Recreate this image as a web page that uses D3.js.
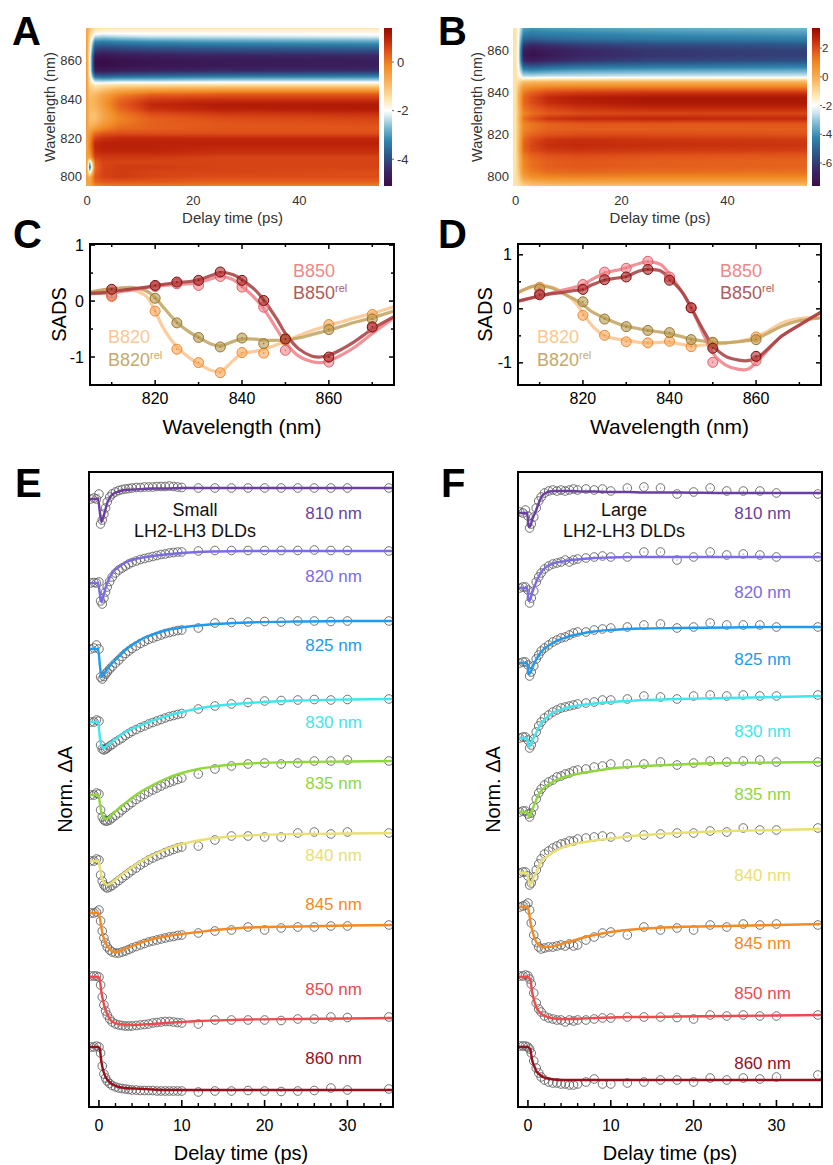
<!DOCTYPE html>
<html>
<head>
<meta charset="utf-8">
<script src="https://cdn.jsdelivr.net/npm/d3@7/dist/d3.min.js"></script>
<style>
html,body{margin:0;padding:0;background:#fff;}
svg{display:block;}
</style>
</head>
<body>
<svg id="fig" width="833" height="1165" xmlns="http://www.w3.org/2000/svg"></svg>
<script>
// ======================= DATA =======================
// --- Panels A / B : transient absorption maps (mOD) ---
const heatTimes = [0, 0.5, 1.5, 3, 6, 12, 25, 55];
const heatWlA = [877.5, 875, 872.5, 870, 867.5, 865, 862.5, 860, 857.5, 855, 852.5, 850, 847.5, 845, 842.5, 840, 837.5, 835, 832.5, 830, 827.5, 825, 822.5, 820, 817.5, 815, 812.5, 810, 807.5, 805, 802.5, 800, 797.5, 795];
const heatA = [
  [-0.6, -1.0, -1.4, -1.5, -1.5, -1.5, -1.5, -1.5],
  [-0.6, -1.1, -1.7, -1.8, -1.8, -1.8, -1.8, -1.8],
  [-0.6, -1.3, -2.4, -2.5, -2.4, -2.3, -2.3, -2.2],
  [-0.5, -1.5, -3.2, -3.3, -3.2, -3.1, -3.0, -2.9],
  [-0.5, -1.6, -3.8, -3.9, -3.8, -3.7, -3.6, -3.5],
  [-0.5, -1.7, -4.3, -4.4, -4.3, -4.2, -4.1, -4.0],
  [-0.5, -1.8, -4.8, -4.9, -4.8, -4.7, -4.6, -4.5],
  [-0.5, -1.8, -5.0, -5.1, -5.0, -4.9, -4.8, -4.7],
  [-0.5, -1.8, -5.0, -5.1, -5.0, -4.9, -4.8, -4.7],
  [-0.5, -1.8, -4.7, -4.8, -4.7, -4.6, -4.5, -4.4],
  [-0.5, -1.7, -3.8, -3.9, -3.8, -3.7, -3.6, -3.5],
  [-0.5, -1.5, -2.6, -2.7, -2.6, -2.6, -2.5, -2.5],
  [-0.5, -1.3, -1.6, -1.5, -1.4, -1.4, -1.4, -1.4],
  [-0.5, -1.1, -1.2, -1.0, -0.7, -0.5, -0.4, -0.4],
  [-0.5, -1.0, -0.9, -0.6, -0.1, 0.3, 0.4, 0.4],
  [-0.5, -0.9, -0.8, -0.4, 0.2, 0.7, 0.8, 0.8],
  [-0.5, -0.9, -0.8, -0.4, 0.3, 0.9, 1.1, 1.1],
  [-0.5, -0.9, -0.9, -0.5, 0.2, 0.8, 1.0, 1.1],
  [-0.5, -1.0, -1.0, -0.6, 0.0, 0.5, 0.7, 0.8],
  [-0.5, -1.0, -1.0, -0.6, -0.1, 0.3, 0.5, 0.6],
  [-0.5, -0.9, -0.8, -0.4, 0.0, 0.3, 0.4, 0.5],
  [-0.5, -0.7, -0.4, -0.1, 0.2, 0.3, 0.4, 0.4],
  [-0.5, -0.4, 0.2, 0.4, 0.5, 0.5, 0.5, 0.5],
  [-0.5, -0.2, 0.6, 0.8, 0.9, 0.9, 0.9, 0.9],
  [-0.5, -0.1, 0.9, 1.0, 1.0, 1.0, 1.0, 1.0],
  [-0.5, -0.1, 0.9, 1.0, 1.0, 1.0, 0.9, 0.9],
  [-0.5, -0.3, 0.8, 0.9, 0.9, 0.9, 0.8, 0.8],
  [-0.5, -0.6, 0.6, 0.7, 0.7, 0.7, 0.6, 0.6],
  [-0.6, -2.6, 0.3, 0.6, 0.6, 0.6, 0.6, 0.6],
  [-0.6, -3.6, 0.2, 0.6, 0.7, 0.7, 0.6, 0.6],
  [-0.6, -2.2, 0.3, 0.6, 0.7, 0.6, 0.6, 0.5],
  [-0.5, -0.8, 0.4, 0.6, 0.7, 0.6, 0.5, 0.5],
  [-0.5, -0.6, 0.2, 0.4, 0.4, 0.4, 0.3, 0.3],
  [-0.6, -0.7, -0.2, -0.1, 0.0, 0.0, -0.1, -0.1]
];
const heatWlB = [872.5, 870, 867.5, 865, 862.5, 860, 857.5, 855, 852.5, 850, 847.5, 845, 842.5, 840, 837.5, 835, 832.5, 830, 827.5, 825, 822.5, 820, 817.5, 815, 812.5, 810, 807.5, 805, 802.5, 800, 797.5, 795];
const heatB = [
  [-1.2, -1.8, -3.6, -3.8, -3.7, -3.6, -3.4, -3.2],
  [-1.2, -1.8, -3.8, -4.0, -3.9, -3.8, -3.6, -3.4],
  [-1.2, -1.9, -4.3, -4.5, -4.4, -4.3, -4.1, -3.9],
  [-1.2, -2.0, -5.0, -5.2, -5.0, -4.8, -4.6, -4.4],
  [-1.2, -2.0, -6.0, -6.4, -6.2, -5.9, -5.6, -5.3],
  [-1.2, -2.0, -6.8, -7.2, -6.9, -6.5, -6.1, -5.8],
  [-1.2, -2.0, -7.0, -7.4, -7.1, -6.6, -6.2, -5.9],
  [-1.2, -2.0, -6.5, -6.9, -6.6, -6.2, -5.8, -5.5],
  [-1.2, -1.9, -5.2, -5.5, -5.2, -4.9, -4.7, -4.5],
  [-1.2, -1.8, -3.8, -4.0, -3.8, -3.6, -3.5, -3.4],
  [-1.2, -1.6, -2.6, -2.6, -2.5, -2.5, -2.4, -2.4],
  [-1.2, -1.0, -0.4, -0.3, -0.2, -0.2, -0.2, -0.2],
  [-1.2, -0.6, 0.6, 0.8, 1.0, 1.1, 1.1, 1.1],
  [-1.2, -0.3, 1.2, 1.6, 2.0, 2.2, 2.3, 2.3],
  [-1.2, -0.2, 1.5, 2.0, 2.6, 2.9, 3.0, 3.0],
  [-1.2, -0.2, 1.5, 2.0, 2.5, 2.8, 3.0, 3.0],
  [-1.2, -0.3, 1.3, 1.7, 2.1, 2.4, 2.6, 2.6],
  [-1.2, -0.4, 1.0, 1.4, 1.8, 2.0, 2.1, 2.1],
  [-1.2, -0.3, 1.4, 1.9, 2.4, 2.6, 2.7, 2.6],
  [-1.2, -0.4, 1.0, 1.3, 1.6, 1.8, 1.8, 1.8],
  [-1.2, -0.4, 1.0, 1.3, 1.6, 1.7, 1.7, 1.7],
  [-1.2, -0.4, 1.2, 1.6, 1.9, 2.0, 2.0, 1.9],
  [-1.2, -0.3, 1.5, 2.0, 2.4, 2.5, 2.4, 2.3],
  [-1.2, -0.3, 1.6, 2.1, 2.5, 2.6, 2.5, 2.4],
  [-1.2, -0.3, 1.5, 2.0, 2.3, 2.4, 2.3, 2.2],
  [-1.2, -0.4, 1.2, 1.6, 1.9, 2.0, 1.9, 1.8],
  [-1.2, -0.5, 1.0, 1.4, 1.7, 1.8, 1.7, 1.6],
  [-1.2, -0.5, 1.0, 1.4, 1.7, 1.8, 1.7, 1.6],
  [-1.2, -0.6, 0.8, 1.2, 1.5, 1.6, 1.5, 1.4],
  [-1.2, -0.8, 0.4, 0.8, 1.0, 1.1, 1.0, 1.0],
  [-1.2, -1.0, -0.3, 0.0, 0.2, 0.3, 0.3, 0.3],
  [-1.3, -1.3, -1.0, -0.9, -0.8, -0.8, -0.8, -0.8]
];
const heatRangeA = [-5.1, 1.4];
const heatRangeB = [-7.6, 3.4];
const cbTicksA = [0, -2, -4];
const cbTicksB = [2, 0, -2, -4, -6];
const heatTimeTicks = [0, 20, 40];
const heatWlTicks = [800, 820, 840, 860];

// --- Panels C / D : species-associated difference spectra ---
const sadsWl = [810, 820, 825, 830, 835, 840, 845, 850, 860, 870];
const C_B850 = [0.10, 0.26, 0.31, 0.28, 0.44, 0.25, -0.11, -0.88, -1.09, -0.48];
const C_B850rel = [0.21, 0.28, 0.34, 0.37, 0.52, 0.37, 0.01, -0.68, -1.00, -0.46];
const C_B820 = [0.08, -0.18, -0.86, -1.10, -1.28, -0.92, -0.93, -0.70, -0.42, -0.24];
const C_B820rel = [0.14, 0.05, -0.39, -0.65, -0.82, -0.66, -0.76, -0.67, -0.51, -0.32];
const D_B850 = [0.28, 0.45, 0.68, 0.75, 0.88, 0.59, 0.02, -0.99, -0.96, null];
const D_B850rel = [0.26, 0.36, 0.54, 0.59, 0.73, 0.53, 0.02, -0.73, -0.88, null];
const D_B820 = [0.40, -0.12, -0.49, -0.61, -0.63, -0.60, -0.70, -0.63, -0.52, null];
const D_B820rel = [0.37, 0.13, -0.19, -0.33, -0.40, -0.44, -0.57, -0.62, -0.57, null];
const sadsFitWl = [805, 808, 810, 813, 815, 818, 820, 822, 825, 828, 830, 833, 835, 838, 840, 843, 845, 848, 850, 853, 856, 858, 860, 863, 866, 870, 875];
const C_B820fit = [0.17,0.2,0.22,0.22,0.2,0.08,-0.18,-0.5,-0.82,-1.02,-1.12,-1.24,-1.26,-1.06,-0.94,-0.9,-0.86,-0.78,-0.72,-0.62,-0.53,-0.48,-0.43,-0.37,-0.3,-0.22,-0.1];
const C_B820relFit = [0.15,0.2,0.22,0.24,0.24,0.18,0.06,-0.12,-0.38,-0.56,-0.65,-0.77,-0.8,-0.72,-0.68,-0.68,-0.7,-0.7,-0.7,-0.66,-0.6,-0.56,-0.52,-0.45,-0.38,-0.3,-0.18];
const C_B850fit = [0.13,0.14,0.15,0.18,0.2,0.24,0.26,0.28,0.3,0.31,0.33,0.4,0.44,0.38,0.26,0.05,-0.14,-0.5,-0.74,-0.98,-1.08,-1.1,-1.07,-0.96,-0.82,-0.58,-0.3];
const C_B850relFit = [0.14,0.15,0.17,0.2,0.22,0.25,0.28,0.3,0.33,0.35,0.38,0.46,0.51,0.47,0.38,0.2,0.02,-0.32,-0.58,-0.85,-0.98,-1.0,-0.97,-0.86,-0.72,-0.5,-0.28];
const D_B820fit = [0.3,0.4,0.43,0.4,0.32,0.14,-0.08,-0.3,-0.5,-0.56,-0.58,-0.62,-0.63,-0.62,-0.62,-0.66,-0.68,-0.67,-0.66,-0.63,-0.6,-0.57,-0.52,-0.4,-0.26,-0.18,-0.16];
const D_B820relFit = [0.3,0.41,0.43,0.38,0.3,0.18,0.08,-0.05,-0.17,-0.27,-0.32,-0.37,-0.4,-0.43,-0.46,-0.52,-0.56,-0.6,-0.62,-0.63,-0.61,-0.59,-0.56,-0.44,-0.32,-0.22,-0.17];
const D_B850fit = [0.14,0.2,0.23,0.3,0.34,0.4,0.45,0.54,0.66,0.72,0.76,0.84,0.87,0.82,0.64,0.3,0.02,-0.5,-0.82,-1.04,-1.12,-1.12,-1.0,-0.74,-0.5,-0.3,-0.06];
const D_B850relFit = [0.14,0.2,0.24,0.28,0.3,0.34,0.36,0.44,0.53,0.57,0.6,0.7,0.73,0.7,0.56,0.3,0.02,-0.42,-0.68,-0.88,-0.95,-0.96,-0.92,-0.72,-0.5,-0.3,-0.06];
const sadsXTicks = [820, 840, 860];
const sadsYTicks = [-1, 0, 1];

// --- Panels E / F : normalised kinetics ---
const probeLabels = ['810 nm', '820 nm', '825 nm', '830 nm', '835 nm', '840 nm', '845 nm', '850 nm', '860 nm'];
const kinTimesE = [-1,-0.6,-0.3,0,0.2,0.4,0.6,0.8,1.0,1.3,1.6,2.0,2.4,2.8,3.2,3.6,4.0,4.5,5.0,5.5,6.0,6.5,7.0,7.5,8.0,8.5,9.0,9.5,10,12,14,16,18,20,22,24,26,28,30,35];
const kinTimesF = [-1,-0.6,-0.3,0,0.2,0.4,0.7,1.0,1.3,1.6,2.0,2.5,3.0,3.5,4.0,4.5,5.0,5.5,6.0,7.0,8.0,9.0,10,12,14,16,18,20,22,24,26,28,30,35];
const fitTimes = [-1.2,-0.1,0.1,0.3,0.5,0.8,1.0,1.4,1.8,2.4,3.2,4.2,5.3,6.5,8,10,12,14,18,24,30,35.5];
const offsetsE = [12.16, 10.48, 9.16, 7.70, 6.24, 4.92, 3.88, 2.60, 1.20];
const offsetsF = [11.88, 10.38, 8.88, 7.38, 5.90, 4.68, 4.00, 2.60, 1.20];
const dataE = [
  [0,0.02,0,0.1,-0.5,-0.42,-0.3,-0.18,-0.06,0.04,0.1,0.14,0.17,0.19,0.2,0.21,0.22,0.23,0.23,0.24,0.24,0.24,0.25,0.25,0.25,0.26,0.25,0.24,0.23,0.22,0.22,0.22,0.22,0.22,0.22,0.22,0.22,0.22,0.22,0.22],
  [0,0.01,0,0.02,-0.36,-0.42,-0.3,-0.18,-0.08,0.03,0.12,0.2,0.26,0.3,0.34,0.38,0.41,0.44,0.47,0.49,0.51,0.53,0.55,0.57,0.58,0.6,0.61,0.62,0.62,0.64,0.65,0.65,0.65,0.65,0.65,0.65,0.66,0.65,0.65,0.64],
  [0,0.02,0.08,0,-0.56,-0.6,-0.55,-0.5,-0.46,-0.4,-0.35,-0.28,-0.22,-0.15,-0.09,-0.04,0.01,0.06,0.11,0.15,0.19,0.22,0.25,0.28,0.31,0.33,0.35,0.37,0.38,0.42,0.52,0.53,0.54,0.55,0.54,0.56,0.56,0.55,0.56,0.56],
  [0,0,0.04,0.02,-0.46,-0.54,-0.56,-0.54,-0.52,-0.48,-0.45,-0.4,-0.36,-0.32,-0.27,-0.23,-0.19,-0.15,-0.11,-0.08,-0.04,-0.01,0.02,0.05,0.08,0.11,0.13,0.15,0.17,0.26,0.32,0.36,0.39,0.42,0.43,0.44,0.45,0.44,0.45,0.46],
  [0,0,0.04,0.02,-0.3,-0.44,-0.5,-0.52,-0.52,-0.5,-0.46,-0.41,-0.36,-0.3,-0.25,-0.2,-0.15,-0.09,-0.04,0.01,0.06,0.1,0.14,0.18,0.22,0.25,0.28,0.31,0.34,0.42,0.52,0.58,0.62,0.64,0.62,0.64,0.68,0.68,0.7,0.68],
  [0,0,0.04,0.02,-0.28,-0.4,-0.48,-0.52,-0.54,-0.52,-0.49,-0.44,-0.39,-0.34,-0.29,-0.24,-0.19,-0.14,-0.08,-0.03,0.02,0.06,0.1,0.13,0.17,0.2,0.23,0.26,0.28,0.3,0.42,0.5,0.5,0.48,0.48,0.56,0.58,0.54,0.58,0.56],
  [0,0,0.02,0.06,-0.16,-0.36,-0.5,-0.6,-0.68,-0.74,-0.78,-0.8,-0.8,-0.78,-0.76,-0.73,-0.7,-0.67,-0.64,-0.61,-0.58,-0.56,-0.54,-0.52,-0.5,-0.48,-0.47,-0.45,-0.44,-0.4,-0.36,-0.34,-0.28,-0.34,-0.3,-0.28,-0.28,-0.26,-0.26,-0.24],
  [0.02,0.02,0.02,0,-0.16,-0.4,-0.56,-0.68,-0.76,-0.84,-0.9,-0.94,-0.96,-0.97,-0.98,-0.98,-0.98,-0.97,-0.96,-0.95,-0.94,-0.92,-0.91,-0.9,-0.89,-0.89,-0.9,-0.91,-0.92,-0.94,-0.86,-0.86,-0.86,-0.86,-0.87,-0.84,-0.84,-0.8,-0.81,-0.8],
  [0,0,0.02,0,-0.12,-0.38,-0.54,-0.62,-0.68,-0.73,-0.77,-0.8,-0.82,-0.83,-0.84,-0.85,-0.86,-0.86,-0.87,-0.87,-0.87,-0.87,-0.88,-0.88,-0.88,-0.88,-0.88,-0.88,-0.88,-0.9,-0.88,-0.88,-0.87,-0.88,-0.89,-0.88,-0.87,-0.82,-0.86,-0.84]
];
const fitsE = [
  [0,0,-0.25,-0.46,-0.38,-0.2,-0.08,0.05,0.11,0.15,0.18,0.19,0.2,0.21,0.21,0.22,0.22,0.22,0.22,0.22,0.22,0.22],
  [0,0,-0.2,-0.38,-0.28,-0.1,0,0.14,0.24,0.32,0.41,0.47,0.51,0.54,0.57,0.6,0.62,0.63,0.64,0.64,0.64,0.64],
  [0,0,-0.3,-0.56,-0.52,-0.45,-0.4,-0.32,-0.25,-0.15,-0.02,0.1,0.21,0.29,0.37,0.43,0.47,0.5,0.53,0.55,0.56,0.56],
  [0,0,-0.3,-0.48,-0.52,-0.5,-0.47,-0.42,-0.37,-0.29,-0.2,-0.12,-0.05,0.03,0.11,0.2,0.27,0.32,0.38,0.43,0.45,0.46],
  [0,0,-0.15,-0.35,-0.44,-0.48,-0.47,-0.42,-0.36,-0.27,-0.16,-0.03,0.09,0.2,0.32,0.44,0.52,0.57,0.63,0.66,0.67,0.68],
  [0,0,-0.12,-0.3,-0.4,-0.46,-0.48,-0.45,-0.4,-0.32,-0.22,-0.1,0.02,0.12,0.23,0.34,0.41,0.46,0.51,0.54,0.55,0.56],
  [0,0,-0.1,-0.3,-0.46,-0.6,-0.66,-0.74,-0.78,-0.77,-0.71,-0.65,-0.58,-0.52,-0.47,-0.42,-0.38,-0.34,-0.29,-0.27,-0.25,-0.24],
  [0,0,-0.06,-0.3,-0.48,-0.66,-0.74,-0.86,-0.91,-0.94,-0.95,-0.96,-0.95,-0.94,-0.92,-0.9,-0.88,-0.87,-0.85,-0.84,-0.83,-0.82],
  [0,0,-0.04,-0.3,-0.46,-0.6,-0.65,-0.72,-0.76,-0.8,-0.82,-0.83,-0.84,-0.85,-0.86,-0.86,-0.86,-0.86,-0.86,-0.86,-0.86,-0.86]
];
const dataF = [
  [0.02,0,0.06,-0.06,-0.3,-0.22,-0.08,0.1,0.24,0.32,0.4,0.44,0.46,0.44,0.46,0.44,0.46,0.48,0.46,0.48,0.46,0.48,0.44,0.5,0.52,0.5,0.38,0.42,0.5,0.44,0.44,0.44,0.4,0.38],
  [0,0.02,0.02,-0.04,-0.3,-0.2,-0.06,0.12,0.22,0.3,0.38,0.44,0.48,0.5,0.52,0.56,0.52,0.56,0.58,0.6,0.62,0.64,0.62,0.62,0.72,0.72,0.56,0.62,0.72,0.66,0.68,0.66,0.62,0.62],
  [0,0.02,0.02,-0.04,-0.26,-0.18,-0.06,0.08,0.16,0.24,0.3,0.36,0.42,0.46,0.5,0.52,0.56,0.6,0.62,0.62,0.66,0.68,0.7,0.72,0.76,0.78,0.7,0.72,0.8,0.76,0.76,0.76,0.72,0.72],
  [0,0.02,0.02,-0.04,-0.2,-0.14,-0.02,0.12,0.24,0.32,0.4,0.46,0.52,0.56,0.6,0.62,0.64,0.66,0.68,0.7,0.72,0.76,0.76,0.78,0.84,0.82,0.78,0.84,0.86,0.84,0.86,0.84,0.84,0.86],
  [0,0.02,0.02,-0.04,-0.1,-0.02,0.1,0.26,0.38,0.46,0.54,0.6,0.64,0.7,0.72,0.76,0.78,0.82,0.84,0.86,0.9,0.92,0.96,0.96,0.96,1.0,0.94,0.98,1.02,1.0,1.02,1.04,1.0,1.0],
  [0,0.02,0.02,-0.06,-0.24,-0.2,-0.08,0.06,0.18,0.28,0.38,0.44,0.5,0.54,0.58,0.6,0.64,0.64,0.68,0.7,0.72,0.74,0.72,0.72,0.76,0.78,0.8,0.8,0.84,0.82,0.9,0.86,0.86,0.9],
  [0,0.02,0.04,0.08,-0.06,-0.32,-0.56,-0.7,-0.8,-0.84,-0.82,-0.8,-0.8,-0.78,-0.76,-0.78,-0.74,-0.78,-0.76,-0.66,-0.6,-0.52,-0.5,-0.56,-0.4,-0.46,-0.42,-0.46,-0.36,-0.4,-0.34,-0.36,-0.34,-0.36],
  [0.02,0.02,0.04,0.02,-0.04,-0.14,-0.32,-0.52,-0.64,-0.7,-0.78,-0.82,-0.84,-0.86,-0.86,-0.9,-0.86,-0.88,-0.86,-0.86,-0.84,-0.82,-0.82,-0.8,-0.8,-0.8,-0.81,-0.84,-0.76,-0.78,-0.76,-0.78,-0.78,-0.76],
  [0.02,0.02,0.02,0,-0.04,-0.12,-0.28,-0.42,-0.52,-0.6,-0.66,-0.7,-0.72,-0.72,-0.74,-0.74,-0.76,-0.76,-0.74,-0.7,-0.64,-0.74,-0.74,-0.72,-0.7,-0.66,-0.66,-0.7,-0.62,-0.66,-0.62,-0.64,-0.6,-0.56]
];
const fitsF = [
  [0,0,-0.28,-0.26,-0.14,-0.02,0.06,0.24,0.36,0.42,0.44,0.44,0.44,0.43,0.43,0.42,0.42,0.41,0.41,0.4,0.4,0.4],
  [0,0,-0.26,-0.22,-0.1,0.04,0.12,0.26,0.36,0.44,0.5,0.53,0.56,0.58,0.6,0.61,0.62,0.62,0.62,0.62,0.62,0.62],
  [0,0,-0.22,-0.2,-0.1,0,0.07,0.18,0.26,0.34,0.42,0.49,0.55,0.59,0.63,0.66,0.68,0.69,0.7,0.71,0.72,0.72],
  [0,0,-0.17,-0.15,-0.06,0.04,0.1,0.24,0.33,0.43,0.52,0.58,0.63,0.66,0.69,0.72,0.74,0.76,0.78,0.8,0.82,0.84],
  [0,0,-0.1,-0.06,0.04,0.16,0.24,0.38,0.46,0.54,0.62,0.69,0.74,0.78,0.82,0.87,0.9,0.92,0.95,0.98,0.99,1.0],
  [0,0,-0.16,-0.24,-0.18,-0.06,0,0.16,0.26,0.34,0.43,0.51,0.57,0.61,0.65,0.69,0.73,0.76,0.8,0.84,0.86,0.88],
  [0,0,-0.08,-0.3,-0.46,-0.62,-0.7,-0.77,-0.8,-0.8,-0.78,-0.73,-0.68,-0.62,-0.56,-0.5,-0.46,-0.43,-0.4,-0.38,-0.36,-0.34],
  [0,0,-0.01,-0.06,-0.3,-0.5,-0.6,-0.7,-0.76,-0.8,-0.83,-0.84,-0.84,-0.83,-0.82,-0.81,-0.8,-0.8,-0.79,-0.78,-0.77,-0.76],
  [0,0,-0.01,-0.06,-0.26,-0.4,-0.48,-0.55,-0.6,-0.63,-0.65,-0.66,-0.66,-0.66,-0.66,-0.66,-0.66,-0.66,-0.66,-0.66,-0.66,-0.66]
];
const kinXTicks = [0, 10, 20, 30];
const kinMinorTicks = [2, 4, 6, 8, 12, 14, 16, 18, 22, 24, 26, 28, 32, 34];

// ======================= STYLE / LAYOUT =======================
const FONT = '"Liberation Sans", Arial, Helvetica, sans-serif';
const probeColors = ['#6a3fa0', '#7b6be6', '#1e9af0', '#3fe6ee', '#8fd83a', '#e8e070', '#f58a22', '#ee4a4e', '#9a0f1c'];
const labelShiftE = [25, 25, 24, 23, 22, 22, -21, -29, -32];
const labelShiftF = [20, 35, 32, 35, 32, 46, 19, -22, -17];
const sadsStyle = {
  B820:    {line: '#fdc38c', fill: '#f9a65a', stroke: '#ee8a30', text: '#fcc794'},
  B820rel: {line: '#bfa25e', fill: '#b89a50', stroke: '#94782f', text: '#c4a96c'},
  B850:    {line: '#f07f86', fill: '#f4868c', stroke: '#de5f68', text: '#f08888'},
  B850rel: {line: '#a63c3c', fill: '#a82a2a', stroke: '#7a1010', text: '#b05a5c'}
};

const svg = d3.select('#fig').attr('font-family', FONT);
svg.append('rect').attr('width', 833).attr('height', 1165).attr('fill', '#fff');

// panel letters
[['A',12,45],['B',438,45],['C',13,248],['D',438,248],['E',15,497],['F',441,497]].forEach(([t,x,y]) => {
  svg.append('text').attr('x', x).attr('y', y).attr('font-size', 40).attr('font-weight', 'bold').attr('fill', '#000').text(t);
});

// ======================= HEATMAPS =======================
function makeColor(vmin, vmax) {
  const negF = [0, 0.2, 0.4, 0.6, 0.78, 0.92, 1];
  const negC = ['#3a0d48', '#3a2866', '#2e5589', '#2f85ad', '#7fbbd3', '#d3e9f0', '#ffffff'];
  const posF = [0.15, 0.35, 0.55, 0.72, 0.86, 1];
  const posC = ['#fde3a6', '#f8b25a', '#f08a24', '#e0521a', '#c0260a', '#950a00'];
  const dom = negF.map(f => vmin + f * (-2 - vmin)).concat(posF.map(f => -2 + f * (vmax + 2)));
  return d3.scaleLinear().domain(dom).range(negC.concat(posC)).interpolate(d3.interpolateRgb).clamp(true);
}
function makeInterp(times, wls, M) {
  const desc = wls[0] > wls[wls.length - 1];
  const W = desc ? wls.slice().reverse() : wls.slice();
  const R = desc ? M.slice().reverse() : M;
  return (t, w) => {
    t = Math.max(times[0], Math.min(times[times.length - 1], t));
    w = Math.max(W[0], Math.min(W[W.length - 1], w));
    const j = Math.min(times.length - 2, Math.max(0, d3.bisectRight(times, t) - 1));
    const i = Math.min(W.length - 2, Math.max(0, d3.bisectRight(W, w) - 1));
    const ft = (t - times[j]) / (times[j + 1] - times[j]);
    const fw = (w - W[i]) / (W[i + 1] - W[i]);
    const a = R[i][j] * (1 - ft) + R[i][j + 1] * ft;
    const b = R[i + 1][j] * (1 - ft) + R[i + 1][j + 1] * ft;
    return a * (1 - fw) + b * fw;
  };
}
function heatPanel(c) {
  const x = d3.scaleLinear().domain(c.tDomain).range([c.left, c.right]);
  const y = d3.scaleLinear().domain(c.wDomain).range([c.bottom, c.top]);
  const color = makeColor(c.range[0], c.range[1]);
  const f = makeInterp(heatTimes, c.wls, c.M);
  const w = c.right - c.left, h = c.bottom - c.top;
  const cv = document.createElement('canvas'); cv.width = w; cv.height = h;
  const ctx = cv.getContext('2d'); const img = ctx.createImageData(w, h);
  for (let py = 0; py < h; py++) {
    const wl = y.invert(c.top + py + 0.5);
    for (let px = 0; px < w; px++) {
      const t = x.invert(c.left + px + 0.5);
      const col = d3.rgb(color(f(t, wl)));
      const k = (py * w + px) * 4;
      img.data[k] = col.r; img.data[k + 1] = col.g; img.data[k + 2] = col.b; img.data[k + 3] = 255;
    }
  }
  ctx.putImageData(img, 0, 0);
  svg.append('image').attr('x', c.left).attr('y', c.top).attr('width', w).attr('height', h)
    .attr('preserveAspectRatio', 'none').attr('href', cv.toDataURL());
  // colorbar
  const cbY = d3.scaleLinear().domain(c.range).range([c.bottom, c.top]);
  const cb = document.createElement('canvas'); cb.width = 1; cb.height = h;
  const cctx = cb.getContext('2d');
  for (let py = 0; py < h; py++) { cctx.fillStyle = color(cbY.invert(c.top + py + 0.5)); cctx.fillRect(0, py, 1, 1); }
  svg.append('image').attr('x', c.cbX).attr('y', c.top).attr('width', 8).attr('height', h)
    .attr('preserveAspectRatio', 'none').attr('href', cb.toDataURL());
  c.cbTicks.forEach(v => {
    svg.append('line').attr('x1', c.cbX + 8).attr('x2', c.cbX + 10).attr('y1', cbY(v)).attr('y2', cbY(v)).attr('stroke', '#444').attr('stroke-width', 0.8);
    svg.append('text').attr('x', c.cbX + c.cbLabDx).attr('y', cbY(v)).attr('dy', '0.35em').attr('font-size', c.cbFont).attr('fill', '#333').text(v);
  });
  // axes labels
  heatWlTicks.forEach(v => {
    svg.append('text').attr('x', c.left - 4).attr('y', y(v)).attr('dy', '0.35em').attr('text-anchor', 'end').attr('font-size', 13).attr('fill', '#333').text(v);
  });
  heatTimeTicks.forEach(v => {
    svg.append('text').attr('x', x(v)).attr('y', 205).attr('text-anchor', 'middle').attr('font-size', 13).attr('fill', '#333').text(v);
  });
  svg.append('text').attr('x', (c.left + c.right) / 2).attr('y', 223).attr('text-anchor', 'middle').attr('font-size', 15).attr('fill', '#333').text('Delay time (ps)');
  svg.append('text').attr('transform', `translate(${c.yTitleX},${(c.top + c.bottom) / 2}) rotate(-90)`).attr('text-anchor', 'middle').attr('font-size', 14.5).attr('fill', '#333').text('Wavelength (nm)');
}
heatPanel({left: 86, right: 379, top: 28, bottom: 186, tDomain: [-0.2, 55], wDomain: [795.3, 877], wls: heatWlA, M: heatA, range: heatRangeA, cbX: 384, cbTicks: cbTicksA, cbLabDx: 13, cbFont: 13, yTitleX: 55});
heatPanel({left: 513, right: 807, top: 28, bottom: 186, tDomain: [-0.5, 55], wDomain: [795.7, 870.4], wls: heatWlB, M: heatB, range: heatRangeB, cbX: 812, cbTicks: cbTicksB, cbLabDx: 10, cbFont: 11.5, yTitleX: 482});

// ======================= SADS =======================
function sadsPanel(c) {
  const x = d3.scaleLinear().domain([805, 875]).range([c.left, c.right]);
  const y = d3.scaleLinear().domain(c.yDomain).range([c.bottom, c.top]);
  const g = svg.append('g');
  const clipId = 'clip' + c.key;
  svg.append('clipPath').attr('id', clipId).append('rect').attr('x', c.left).attr('y', c.top).attr('width', c.right - c.left).attr('height', c.bottom - c.top);
  const lg = g.append('g').attr('clip-path', `url(#${clipId})`);
  const line = d3.line().x(d => x(d[0])).y(d => y(d[1])).curve(d3.curveCatmullRom.alpha(0.5));
  const order = ['B820', 'B820rel', 'B850', 'B850rel'];
  order.forEach(k => {
    lg.append('path').datum(d3.zip(sadsFitWl, c.fits[k])).attr('d', line).attr('fill', 'none')
      .attr('stroke', sadsStyle[k].line).attr('stroke-width', 3.2).attr('stroke-opacity', 0.85);
  });
  order.forEach(k => {
    const pts = d3.zip(sadsWl, c.pts[k]).filter(d => d[1] !== null);
    lg.selectAll(null).data(pts).enter().append('circle').attr('cx', d => x(d[0])).attr('cy', d => y(d[1])).attr('r', 5)
      .attr('fill', sadsStyle[k].fill).attr('fill-opacity', 0.6).attr('stroke', sadsStyle[k].stroke).attr('stroke-width', 1);
    lg.selectAll(null).data(pts).enter().append('circle').attr('cx', d => x(d[0])).attr('cy', d => y(d[1])).attr('r', 0.8)
      .attr('fill', sadsStyle[k].stroke);
  });
  // frame & ticks
  g.append('rect').attr('x', c.left).attr('y', c.top).attr('width', c.right - c.left).attr('height', c.bottom - c.top)
    .attr('fill', 'none').attr('stroke', '#000').attr('stroke-width', 2);
  const tick = (x1, y1, x2, y2) => g.append('line').attr('x1', x1).attr('y1', y1).attr('x2', x2).attr('y2', y2).attr('stroke', '#000').attr('stroke-width', 1.5);
  [810, 820, 830, 840, 850, 860, 870].forEach(v => {
    const L = sadsXTicks.includes(v) ? 5 : 3;
    tick(x(v), c.bottom, x(v), c.bottom - L); tick(x(v), c.top, x(v), c.top + L);
  });
  [-1, -0.5, 0, 0.5, 1].forEach(v => {
    const L = sadsYTicks.includes(v) ? 5 : 3;
    tick(c.left, y(v), c.left + L, y(v)); tick(c.right, y(v), c.right - L, y(v));
  });
  sadsXTicks.forEach(v => g.append('text').attr('x', x(v)).attr('y', c.bottom + 19).attr('text-anchor', 'middle').attr('font-size', 16).text(v));
  sadsYTicks.forEach(v => g.append('text').attr('x', c.left - 6).attr('y', y(v)).attr('dy', '0.35em').attr('text-anchor', 'end').attr('font-size', 16).text(v));
  g.append('text').attr('x', (c.left + c.right) / 2).attr('y', 434).attr('text-anchor', 'middle').attr('font-size', 21).text('Wavelength (nm)');
  g.append('text').attr('transform', `translate(${c.yTitleX},${(c.top + c.bottom) / 2}) rotate(-90)`).attr('text-anchor', 'middle').attr('font-size', 20).text('SADS');
  // legend labels
  const leg = (k, lx, ly) => {
    const t = g.append('text').attr('x', lx).attr('y', ly).attr('font-size', 18).attr('fill', sadsStyle[k].text);
    t.append('tspan').text(k.slice(0, 4));
    if (k.endsWith('rel')) t.append('tspan').attr('font-size', 11).attr('dy', -7).text('rel');
  };
  leg('B850', c.leg850x, 277); leg('B850rel', c.leg850x, 299);
  leg('B820', c.leg820x, 343); leg('B820rel', c.leg820x, 366);
}
sadsPanel({key: 'C', left: 90, right: 394, top: 244, bottom: 385, yDomain: [-1.5, 1.02], yTitleX: 66,
  fits: {B820: C_B820fit, B820rel: C_B820relFit, B850: C_B850fit, B850rel: C_B850relFit},
  pts: {B820: C_B820, B820rel: C_B820rel, B850: C_B850, B850rel: C_B850rel}, leg850x: 293, leg820x: 108});
sadsPanel({key: 'D', left: 518, right: 821, top: 244, bottom: 385, yDomain: [-1.41, 1.2], yTitleX: 492,
  fits: {B820: D_B820fit, B820rel: D_B820relFit, B850: D_B850fit, B850rel: D_B850relFit},
  pts: {B820: D_B820, B820rel: D_B820rel, B850: D_B850, B850rel: D_B850rel}, leg850x: 720, leg820x: 537});

// ======================= KINETICS =======================
function kinPanel(c) {
  const x = d3.scaleLinear().domain([-1.2, 35.5]).range([c.left, c.right]);
  const y = d3.scaleLinear().domain([0, 12.7]).range([c.bottom, c.top]);
  const g = svg.append('g');
  const clipId = 'clip' + c.key;
  svg.append('clipPath').attr('id', clipId).append('rect').attr('x', c.left).attr('y', c.top).attr('width', c.right - c.left).attr('height', c.bottom - c.top);
  const pg = g.append('g').attr('clip-path', `url(#${clipId})`);
  const line = d3.line().x(d => x(d[0])).y(d => y(d[1])).curve(d3.curveMonotoneX);
  c.data.forEach((arr, k) => {
    const off = c.offsets[k];
    const pts = d3.zip(c.times, arr);
    pg.selectAll(null).data(pts).enter().append('circle').attr('cx', d => x(d[0])).attr('cy', d => y(off + d[1])).attr('r', 4.3)
      .attr('fill', 'none').attr('stroke', '#5a5a5a').attr('stroke-width', 0.85);
    pg.selectAll(null).data(pts).enter().append('circle').attr('cx', d => x(d[0])).attr('cy', d => y(off + d[1])).attr('r', 0.6)
      .attr('fill', '#777');
  });
  c.fits.forEach((arr, k) => {
    const off = c.offsets[k];
    pg.append('path').datum(d3.zip(fitTimes, arr.map(v => v + off))).attr('d', line).attr('fill', 'none')
      .attr('stroke', probeColors[k]).attr('stroke-width', 2.4);
    const plateau = y(off + arr[arr.length - 1]);
    g.append('text').attr('x', x(24.9)).attr('y', plateau + c.shifts[k]).attr('dy', '0.35em').attr('font-size', 17)
      .attr('fill', probeColors[k]).text(probeLabels[k]);
  });
  g.append('rect').attr('x', c.left).attr('y', c.top).attr('width', c.right - c.left).attr('height', c.bottom - c.top)
    .attr('fill', 'none').attr('stroke', '#000').attr('stroke-width', 2);
  kinXTicks.forEach(v => {
    g.append('line').attr('x1', x(v)).attr('x2', x(v)).attr('y1', c.bottom).attr('y2', c.bottom - 7).attr('stroke', '#000').attr('stroke-width', 1.6);
    g.append('text').attr('x', x(v)).attr('y', c.bottom + 24).attr('text-anchor', 'middle').attr('font-size', 16).text(v);
  });
  kinMinorTicks.filter(v => v <= 35.5).forEach(v => {
    g.append('line').attr('x1', x(v)).attr('x2', x(v)).attr('y1', c.bottom).attr('y2', c.bottom - 4).attr('stroke', '#000').attr('stroke-width', 1.4);
  });
  g.append('text').attr('x', (c.left + c.right) / 2).attr('y', 1160).attr('text-anchor', 'middle').attr('font-size', 20).text('Delay time (ps)');
  g.append('text').attr('transform', `translate(${c.yTitleX},${(c.top + c.bottom) / 2}) rotate(-90)`).attr('text-anchor', 'middle').attr('font-size', 20).text('Norm. \u0394A');
  g.append('text').attr('x', c.left + 106).attr('y', 516).attr('text-anchor', 'middle').attr('font-size', 18).attr('fill', '#111').text(c.note);
  g.append('text').attr('x', c.left + 106).attr('y', 537).attr('text-anchor', 'middle').attr('font-size', 18).attr('fill', '#111').text('LH2-LH3 DLDs');
}
kinPanel({key: 'E', left: 89, right: 393, top: 472, bottom: 1107, times: kinTimesE, data: dataE, fits: fitsE, offsets: offsetsE, shifts: labelShiftE, note: 'Small', yTitleX: 72});
kinPanel({key: 'F', left: 518, right: 822, top: 472, bottom: 1107, times: kinTimesF, data: dataF, fits: fitsF, offsets: offsetsF, shifts: labelShiftF, note: 'Large', yTitleX: 500});
</script>
</body>
</html>
